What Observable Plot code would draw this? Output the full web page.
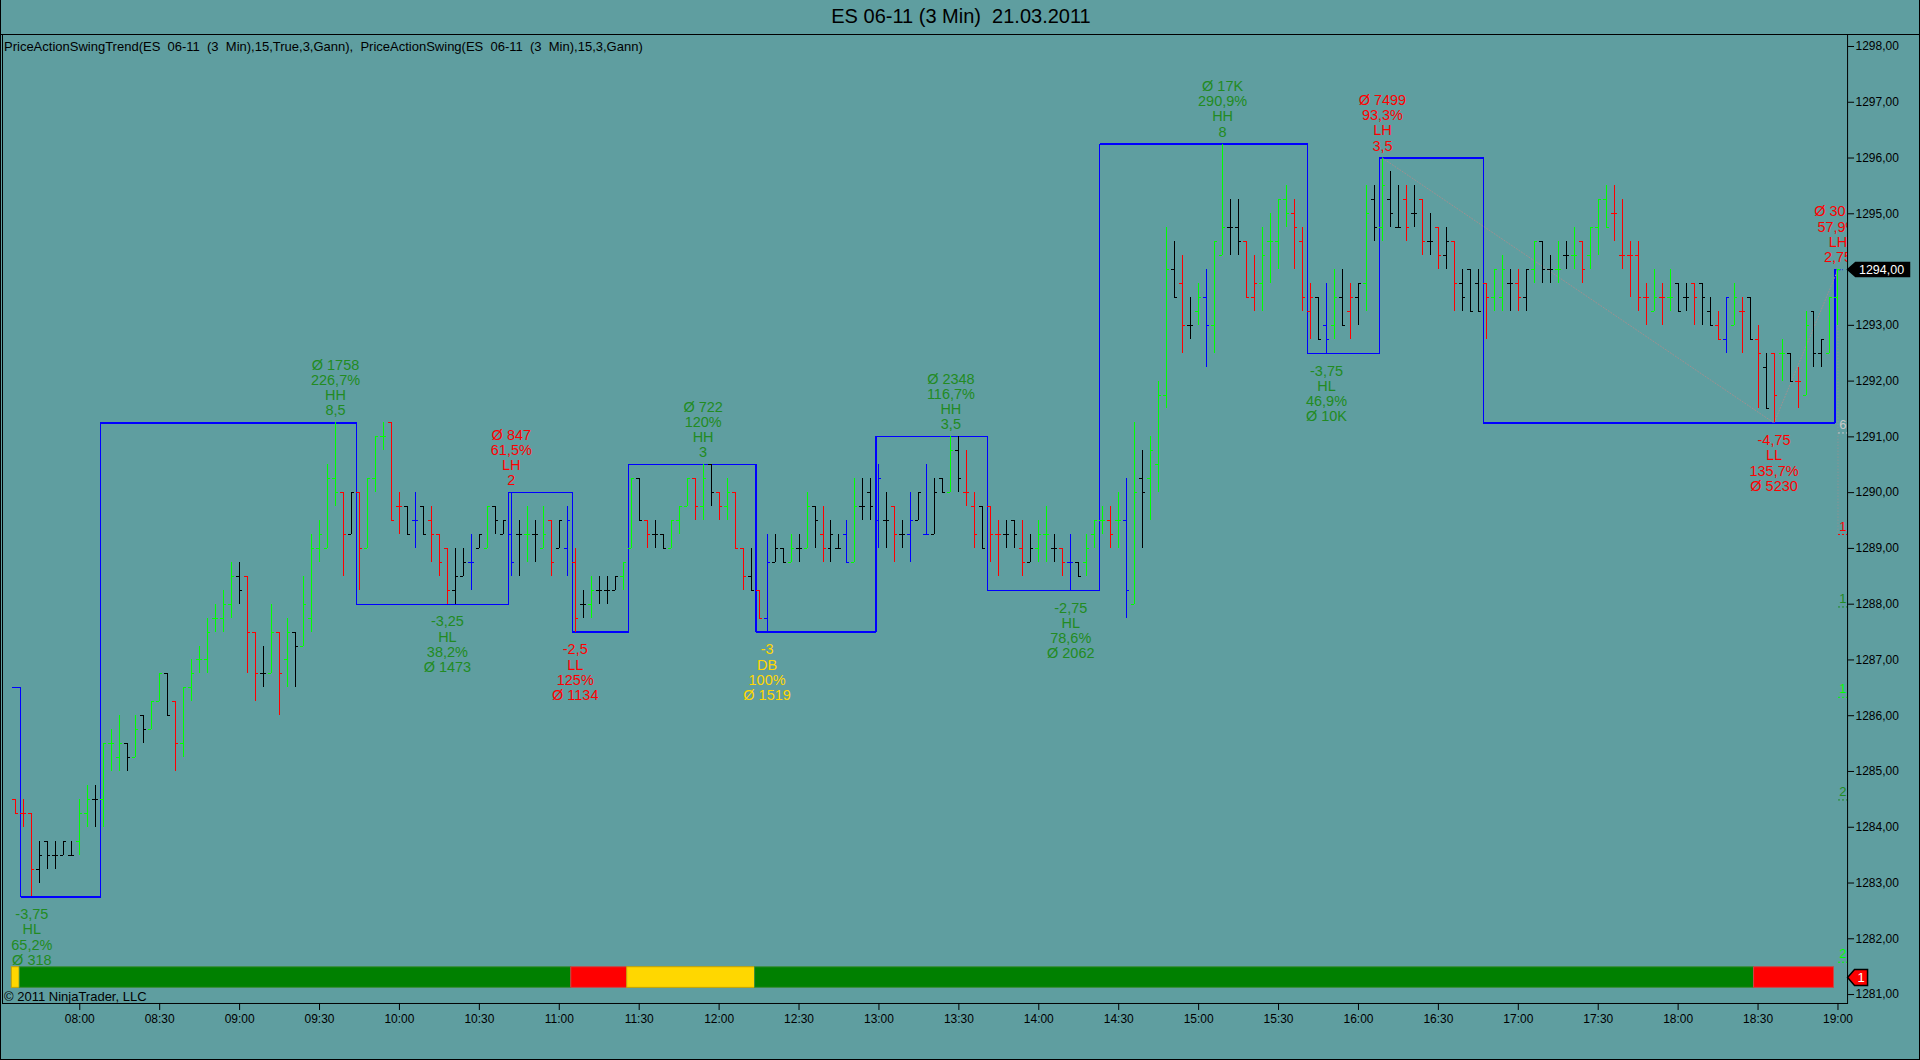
<!DOCTYPE html>
<html>
<head>
<meta charset="utf-8">
<script src="https://cdn.jsdelivr.net/npm/d3@7"></script>
<script src="https://cdn.jsdelivr.net/npm/@observablehq/plot@0.6"></script>
<style>
html,body{margin:0;padding:0;background:#5F9EA0;}
#page{position:relative;width:1920px;height:1060px;background:#5F9EA0;overflow:hidden;font-family:Arial,"Liberation Sans",sans-serif;color:#000;box-sizing:border-box;border-left:1px solid #000;border-right:1px solid #000;border-bottom:1px solid #000;}
#title{position:absolute;left:0;top:0;width:1920px;height:34px;line-height:32px;text-align:center;font-size:20px;white-space:pre;}
#topline{position:absolute;left:0;top:34px;width:1920px;height:1px;background:#000;}
#chart{position:absolute;left:-1px;top:34px;}
#header{position:absolute;left:3px;top:39px;font-size:13px;line-height:16px;white-space:pre;}
#copy{position:absolute;left:3px;top:989px;font-size:13px;line-height:16px;white-space:pre;}
</style>
</head>
<body>
<div id="page">
  <div id="title"></div>
  <div id="chart"></div>
  <div id="topline"></div>
  <div id="header"></div>
  <div id="copy"></div>
</div>
<script>
// ---------- texts ----------
const titleText = "ES 06-11 (3 Min)  21.03.2011";
const headerText = "PriceActionSwingTrend(ES  06-11  (3  Min),15,True,3,Gann),  PriceActionSwing(ES  06-11  (3  Min),15,3,Gann)";
const copyrightText = "© 2011 NinjaTrader, LLC";

// ---------- bars (3-minute OHLC, first bar 07:36) ----------
const firstBar = "07:36";
const barMinutes = 3;
const opens = [
1284.5,1284.25,1284.25,1283.25,1283.75,1283.5,1283.5,1283.5,1283.75,1284.25,
1284.5,1284.5,1285.5,1285.25,1285.5,1285.25,1286,1285.75,1286.25,1286.75,
1286.25,1285.5,1286.5,1287,1287,1287.75,1287.75,1288,1288.5,1288.5,
1287.5,1286.75,1286.75,1287.5,1287,1287.5,1287.25,1287.75,1289,1289,
1290.25,1290,1289.25,1290,1289,1290.25,1291,1291.25,1289.75,1289.75,
1289.5,1289.75,1289.5,1289.25,1289,1288.25,1288.5,1288.75,1289,1289,
1289.75,1289.25,1289.25,1289.25,1289.25,1289.25,1289,1289.5,1289,1289,
1288.75,1288,1288,1288.25,1288.25,1288.25,1288.5,1289,1290.25,1289.5,
1289.25,1289.25,1289,1289.5,1289.75,1290.25,1289.75,1290.5,1290,1289.75,
1290,1289,1288.5,1288.25,1287.75,1288.75,1289,1288.75,1289,1289,
1289.75,1289.25,1289,1289,1289.25,1288.75,1289.75,1290,1289.5,1289.5,
1289.75,1289.25,1289.25,1289.5,1289.25,1289.25,1290.25,1290,1290.75,1290,
1289.75,1289.75,1289.75,1289.25,1289.25,1289.5,1289,1288.75,1289,1289.25,
1289,1289,1288.75,1288.75,1288.75,1289.25,1289.5,1289.5,1289.5,1289.5,
1288,1290.25,1290.25,1290.5,1291.75,1294,1293.75,1293,1293.25,1293.5,
1293,1294.25,1294.75,1294.75,1294.5,1293.5,1293.75,1294.5,1294.5,1295.25,
1295,1294.5,1293.25,1293.5,1293,1293,1293.5,1293.25,1293.5,1293.75,
1295.25,1294.75,1295.25,1294.75,1295.25,1295,1295.25,1294.5,1294.75,1294.25,
1294.5,1293.75,1294,1293.75,1293.75,1293.5,1293.5,1293.75,1293.75,1293.5,
1294,1294.5,1294,1294,1294.25,1294.25,1294.5,1294.25,1294.75,1295.25,
1295,1294.25,1294.25,1294.25,1293.5,1293.25,1293.5,1293.5,1293.75,1293.5,
1293.75,1293.75,1293.25,1293,1292.75,1293,1293.25,1293.5,1292.75,1292.25,
1292.5,1292.5,1292.5,1292,1291.75,1293.25,1292.5,1292.5,1293.5];
const highs = [
1284.5,1284.5,1284.25,1283.75,1283.75,1283.75,1283.75,1283.75,1284.5,1284.75,
1284.75,1285.5,1285.75,1286,1285.5,1286,1286,1286.25,1286.75,1286.75,
1286.25,1286.5,1287,1287.25,1287.75,1288,1288.25,1288.75,1288.75,1288.5,
1287.5,1287.25,1288,1287.5,1287.75,1287.5,1288.5,1289.25,1289.5,1290.5,
1291.25,1290,1290,1290,1290.25,1291,1291.25,1291.25,1290,1289.75,
1290,1289.75,1289.75,1289.25,1289,1289,1289,1289.25,1289.25,1289.75,
1289.75,1289.5,1290,1289.5,1289.75,1289.5,1289.75,1289.5,1289.5,1289.75,
1289,1288.25,1288.5,1288.5,1288.5,1288.5,1288.75,1290.25,1290.25,1289.5,
1289.5,1289.25,1289.5,1289.75,1290.25,1290.25,1290.5,1290.5,1290,1290.25,
1290,1289,1289,1288.25,1289.25,1289.25,1289,1289.25,1289.25,1290,
1289.75,1289.75,1289.5,1289.25,1289.5,1290.25,1290.25,1290.25,1290.5,1290,
1289.75,1289.5,1290,1290,1290.5,1290.25,1290.25,1291,1291,1290.75,
1290,1289.75,1289.75,1289.5,1289.5,1289.5,1289.5,1289.25,1289.5,1289.75,
1289.25,1289,1289.25,1288.75,1289.25,1289.5,1289.75,1289.75,1290,1290.25,
1291.25,1290.75,1291,1292,1294.75,1294.5,1294.25,1293.5,1293.75,1294,
1294.5,1296.25,1295.25,1295.25,1294.5,1294.25,1294.75,1295,1295.25,1295.5,
1295.25,1294.75,1293.75,1293.5,1293.75,1294,1294,1293.75,1293.75,1295.5,
1295.5,1296,1295.75,1295.5,1295.5,1295.5,1295.25,1295,1294.75,1294.75,
1294.5,1294,1294,1294,1293.75,1294,1294.25,1294,1294,1294,
1294.5,1294.5,1294.25,1294.5,1294.5,1294.75,1294.5,1294.75,1295.25,1295.5,
1295.5,1295.25,1294.5,1294.5,1293.75,1294,1293.75,1294,1293.75,1293.75,
1293.75,1293.75,1293.5,1293.25,1293.5,1293.75,1293.5,1293.5,1293,1292.5,
1292.5,1292.75,1292.5,1292.25,1293.25,1293.25,1292.75,1293.5,1294];
const lows = [
1284.25,1284,1282.75,1283,1283.25,1283.25,1283.5,1283.5,1283.5,1284,
1284,1284,1285,1285,1285,1285.25,1285.5,1285.75,1286.25,1286,
1285,1285.25,1286.25,1286.75,1286.75,1287.5,1287.5,1287.75,1288,1286.75,
1286.25,1286.5,1286.75,1286,1286.5,1286.5,1287.25,1287.5,1288.75,1289,
1289.75,1288.5,1289.25,1288.25,1289,1290,1290.75,1289.5,1289.25,1289.25,
1289,1289.25,1288.75,1288.5,1288,1288,1288.5,1288.25,1289,1289,
1289.25,1289.25,1288.5,1288.5,1288.75,1288.75,1289,1288.5,1289,1288.5,
1287.5,1287.75,1287.75,1288,1288,1288.25,1288.25,1289,1289.5,1289,
1289,1289,1289,1289.25,1289.75,1289.5,1289.5,1289.75,1289.5,1289.5,
1289,1288.25,1288.25,1287.75,1287.5,1288.75,1288.75,1288.75,1288.75,1289,
1289,1288.75,1288.75,1289,1288.75,1288.75,1289.5,1289.5,1289,1289,
1288.75,1289,1288.75,1289.5,1289.25,1289.25,1290,1290,1290,1289.75,
1289,1289,1288.75,1288.5,1289,1289,1288.5,1288.75,1288.75,1288.75,
1288.75,1288.5,1288.25,1288.5,1288.5,1289,1289.25,1289,1289,1287.75,
1288,1289,1289.5,1290,1291.5,1293.5,1292.5,1292.75,1293,1292.25,
1292.5,1294.25,1294.25,1294.25,1293.5,1293.25,1293.25,1293.75,1294,1294.75,
1294,1293.25,1292.75,1292.75,1292.5,1292.75,1293,1292.75,1293,1293.25,
1294.5,1294.5,1294.75,1294.75,1294.5,1294.75,1294.25,1294.25,1294,1294,
1293.25,1293.25,1293.25,1293.25,1292.75,1293.25,1293.25,1293.25,1293.25,1293.25,
1293.75,1293.75,1293.75,1293.75,1294,1294,1293.75,1294,1294.25,1294.75,
1294.5,1294,1293.5,1293.25,1293,1293.25,1293,1293.25,1293.25,1293.25,
1293,1293,1293,1292.75,1292.5,1293,1292.5,1292.75,1291.5,1291.5,
1291.25,1292,1292,1291.5,1291.75,1292.25,1292.25,1292.5,1293];
const closes = [
1284.25,1284.25,1283.25,1283.5,1283.5,1283.5,1283.75,1283.5,1284.25,1284.5,
1284.5,1285.5,1285.5,1285.5,1285.25,1285.75,1285.75,1286.25,1286.75,1286,
1285.5,1286.5,1286.75,1287,1287.5,1287.75,1288,1288.5,1288.25,1287.5,
1286.75,1286.75,1287.5,1286.75,1287.5,1287.25,1288,1289,1289.25,1290.25,
1290,1289.25,1290,1289,1290.25,1291,1291,1289.5,1289.75,1289.25,
1289.5,1289.25,1289.25,1288.75,1288.25,1288.5,1288.75,1288.75,1289.25,1289.75,
1289.5,1289.5,1288.75,1289.25,1289.25,1289.25,1289.25,1288.75,1289.5,1289.5,
1287.75,1288,1288.25,1288.25,1288.25,1288.5,1288.75,1290.25,1289.5,1289.25,
1289.25,1289,1289.5,1289.75,1290.25,1289.75,1290.25,1290,1289.75,1290,
1289,1288.5,1288.25,1287.75,1288.75,1289,1288.75,1289,1289,1289.75,
1289.5,1289,1289.25,1289,1288.75,1289.75,1289.75,1289.75,1290.25,1289.5,
1289.25,1289.25,1289.5,1290,1289.25,1290,1290,1290.75,1290.25,1290,
1289.25,1289,1289.25,1289.25,1289.25,1289.25,1288.75,1289,1289.25,1289.25,
1289,1288.75,1288.75,1288.5,1289,1289.5,1289.5,1289.25,1289.5,1288.25,
1290,1290,1290.75,1291.75,1294,1293.5,1293,1293,1293.5,1293,
1294.5,1294.75,1294.75,1294.5,1293.5,1293.75,1294.25,1294.5,1295.25,1295,
1294.75,1293.5,1293.5,1292.75,1292.75,1293.5,1293,1293.5,1293.75,1295,
1294.75,1295.5,1295,1294.75,1294.75,1295,1294.5,1294.5,1294.25,1294.5,
1293.75,1293.5,1293.25,1293.25,1293.5,1294,1294,1293.75,1293.5,1294,
1294.5,1294,1294,1294,1294.25,1294.25,1294,1294.75,1295.25,1294.75,
1295,1294.25,1294.25,1293.5,1293.5,1293.5,1293.5,1293.5,1293.25,1293.5,
1293.5,1293.5,1293,1292.75,1293.5,1293.5,1293.25,1292.75,1292.5,1291.5,
1291.75,1292.5,1292,1292,1293,1292.5,1292.75,1293.5,1294];
// bar colour codes: g = up (lime), r = down (red), k = neutral (black), b = swing (blue)
const barColorCodes = ("rrrkkkkkgg kgggkgkggk rgggggggkr rkgrgkgggg grkrgggrrk bkrrrkkbkg kkbkgkgrkb rkgkkkggkr " +
  "kkgggrgkrg rrkrbkkgkg krkkbgkkbk rkbkbkkgkr rkrrkkrkgg krbkgggrgb gkgggkrkgb ggkkrrgggg rrrkbgkrkg " +
  "kgkkrkrkrk rkkkrggkrk gkkgkgrggg rrrrrgrgkk rkkrbgrkrk rgkrgkkgg").replace(/ /g, "").split("");
const barPalette = {g: "#00FF00", r: "#FF0000", k: "#000000", b: "#0000FF"};

// ---------- swing trend line (blue step line) ----------
const swingTimes  = ["07:36","07:39","08:09","09:45","10:42","11:06","11:27","12:15","13:00","13:42","14:24","15:42","16:09","16:48","19:00"];
const swingPrices = [1286.5,1282.75,1291.25,1288,1290,1287.5,1290.5,1287.5,1291,1288.25,1296.25,1292.5,1296,1291.25,1294];

// ---------- current zigzag (grey dotted) ----------
const zigzagTimes  = ["16:09","18:36","19:00"];
const zigzagPrices = [1296,1291.25,1294];

// ---------- swing labels ----------
const labelTimes  = ["07:42","09:36","10:18","10:42","11:06","11:54","12:18","13:27","14:12","15:09","15:48","16:09","18:36","19:00"];
const labelPrices = [1282.75,1291.25,1288,1290,1287.5,1290.5,1287.5,1291,1288.25,1296.25,1292.5,1296,1291.25,1294];
const labelSides  = ["below","above","below","above","below","above","below","above","below","above","below","above","below","above"];
const labelColors = ["#228B22","#228B22","#228B22","#FF0000","#FF0000","#228B22","#FFD700","#228B22","#228B22","#228B22","#228B22","#FF0000","#FF0000","#FF0000"];
const labelLines = [
  ["-3,75","HL","65,2%","Ø 318"],
  ["Ø 1758","226,7%","HH","8,5"],
  ["-3,25","HL","38,2%","Ø 1473"],
  ["Ø 847","61,5%","LH","2"],
  ["-2,5","LL","125%","Ø 1134"],
  ["Ø 722","120%","HH","3"],
  ["-3","DB","100%","Ø 1519"],
  ["Ø 2348","116,7%","HH","3,5"],
  ["-2,75","HL","78,6%","Ø 2062"],
  ["Ø 17K","290,9%","HH","8"],
  ["-3,75","HL","46,9%","Ø 10K"],
  ["Ø 7499","93,3%","LH","3,5"],
  ["-4,75","LL","135,7%","Ø 5230"],
  ["Ø 30\u2007\u2007","57,9%","LH","2,75"]
];

// ---------- trend strip ----------
const trendStarts = ["07:36","07:39","11:06","11:27","12:15","18:30"];
const trendEnds   = ["07:36","11:03","11:24","12:12","18:27","18:57"];
const trendColors = ["#FFD700","#008000","#FF0000","#FFD700","#008000","#FF0000"];
const trendBorders = ["#C8A400","#3C8C3C","#C84848","#C8A400","#3C8C3C","#C84848"];
const trendBand = [1281.12, 1281.49];
const trendMarkerText = "1";

// ---------- right-edge counters ----------
const counterPrices = [1291.07,1289.25,1287.95,1286.33,1284.49,1281.58];
const counterTexts  = ["6","1","1","1","2","2"];
const counterColors = ["#C8C8C8","#FF0000","#228B22","#00FF00","#228B22","#00FF00"];

// ---------- axes ----------
const xTickLabels = ["08:00","08:30","09:00","09:30","10:00","10:30","11:00","11:30","12:00","12:30","13:00","13:30","14:00","14:30","15:00","15:30","16:00","16:30","17:00","17:30","18:00","18:30","19:00"];
const yTicks = [1281,1282,1283,1284,1285,1286,1287,1288,1289,1290,1291,1292,1293,1294,1295,1296,1297,1298];

// ---------- helpers ----------
const toMin = s => { const [h, m] = s.split(":").map(Number); return h * 60 + m; };
const fmtTime = m => String(Math.floor(m / 60)).padStart(2, "0") + ":" + String(Math.round(m % 60)).padStart(2, "0");
const fmtPrice = v => v.toFixed(2).replace(".", ",");
const tickLen = 1.125;        // open/close tick length, minutes
const lineShift = 1.125;      // swing line drawn just left of its bar
const xDomain = [451, 1143.6];
const yDomain = [1280.84, 1298.215];

const t0 = toMin(firstBar);
const bars = opens.map((o, i) => ({
  t: t0 + i * barMinutes, o, h: highs[i], l: lows[i], c: closes[i], col: barPalette[barColorCodes[i]]
}));
const swings = swingTimes.map((s, i) => ({t: toMin(s) - lineShift, p: swingPrices[i]}));
const zigzag = zigzagTimes.map((s, i) => ({t: toMin(s), p: zigzagPrices[i]}));
const labels = labelTimes.map((s, i) => ({t: toMin(s), p: labelPrices[i], side: labelSides[i], col: labelColors[i], text: labelLines[i].join("\n")}));
const trend = trendStarts.map((s, i) => ({x1: toMin(s) - barMinutes / 2, x2: toMin(trendEnds[i]) + barMinutes / 2, fill: trendColors[i], stroke: trendBorders[i]}));
const counters = counterPrices.map((p, i) => ({p, text: counterTexts[i], col: counterColors[i]}));
const lastBar = bars[bars.length - 1];
const lastSwing = swings[swings.length - 1];

const priceTagSymbol = {draw(ctx) { ctx.moveTo(0, 0); ctx.lineTo(8, -7); ctx.lineTo(62, -7); ctx.lineTo(62, 7); ctx.lineTo(8, 7); ctx.closePath(); }};
const trendTagSymbol = {draw(ctx) { ctx.moveTo(0, 0); ctx.lineTo(7, -8); ctx.lineTo(20, -8); ctx.lineTo(20, 8); ctx.lineTo(7, 8); ctx.closePath(); }};

document.getElementById("title").textContent = titleText;
document.getElementById("header").textContent = headerText;
document.getElementById("copy").textContent = copyrightText;

const font = "Arial, 'Liberation Sans', sans-serif";
const chart = Plot.plot({
  width: 1921, height: 1026,
  marginTop: 0, marginBottom: 56, marginLeft: 2, marginRight: 72,
  x: {domain: xDomain},
  y: {domain: yDomain},
  color: {type: "identity"},
  style: {background: "transparent", fontFamily: font, fontSize: "12px", color: "#000", overflow: "visible"},
  marks: [
    Plot.frame({stroke: "#000"}),
    // trend strip
    Plot.rect(trend, {x1: "x1", x2: "x2", y1: trendBand[0], y2: trendBand[1], fill: "fill", stroke: "stroke", strokeWidth: 1}),
    // swing boxes
    Plot.line(swings, {x: "t", y: "p", curve: "step-after", stroke: "#0000FF", strokeWidth: 1.2, shapeRendering: "crispEdges"}),
    Plot.ruleY([lastSwing], {y: "p", x1: d => d.t, x2: d => d.t + 3.2, stroke: "#0000FF", strokeWidth: 1.2, strokeDasharray: "2,2"}),
    // zigzag
    Plot.line(zigzag, {x: "t", y: "p", stroke: "#A09090", strokeWidth: 1, strokeDasharray: "1,2"}),
    Plot.ruleX([lastBar], {x: "t", y1: "l", y2: counterPrices[1], stroke: "#A09090", strokeWidth: 1, strokeDasharray: "1,2"}),
    // OHLC bars
    Plot.ruleX(bars, {x: "t", y1: "l", y2: "h", stroke: "col", strokeWidth: 1, shapeRendering: "crispEdges"}),
    Plot.ruleY(bars, {y: "o", x1: d => d.t - tickLen, x2: "t", stroke: "col", strokeWidth: 1, shapeRendering: "crispEdges"}),
    Plot.ruleY(bars, {y: "c", x1: "t", x2: d => d.t + tickLen, stroke: "col", strokeWidth: 1, shapeRendering: "crispEdges"}),
    // swing labels
    Plot.text(labels.filter(d => d.side === "above"), {x: "t", y: "p", text: "text", fill: "col", fontSize: 14.5, lineHeight: 1.05, lineAnchor: "bottom", dy: -7.5, clip: true}),
    Plot.text(labels.filter(d => d.side === "below"), {x: "t", y: "p", text: "text", fill: "col", fontSize: 14.5, lineHeight: 1.05, lineAnchor: "top", dy: 11.5, clip: true}),
    // right-edge counters
    Plot.ruleY(counters, {y: "p", x1: xDomain[1] - 3.4, x2: xDomain[1], stroke: "col", strokeWidth: 1, strokeDasharray: "2,2"}),
    Plot.text(counters, {x: xDomain[1], y: "p", text: "text", fill: "col", fontSize: 13, textAnchor: "end", dx: -1, dy: -8}),
    // axes (the last-price tag stands in for its own tick label)
    Plot.axisX({ticks: xTickLabels.map(toMin), tickFormat: fmtTime, tickSize: 7, tickPadding: 4, fontSize: 12}),
    Plot.axisY({anchor: "right", ticks: yTicks.filter(v => v !== lastBar.c), tickFormat: fmtPrice, tickSize: 6, tickPadding: 2, fontSize: 12}),
    // last price tag
    Plot.dot([lastBar], {x: xDomain[1], y: "c", symbol: priceTagSymbol, fill: "#000", stroke: "#000", r: 5}),
    Plot.text([lastBar], {x: xDomain[1], y: "c", text: d => fmtPrice(d.c), fill: "#fff", fontSize: 12.5, dx: 34}),
    // trend counter tag
    Plot.dot([trendMarkerText], {x: xDomain[1], y: (trendBand[0] + trendBand[1]) / 2, symbol: trendTagSymbol, fill: "#FF0000", stroke: "#000", r: 5}),
    Plot.text([trendMarkerText], {x: xDomain[1], y: (trendBand[0] + trendBand[1]) / 2, text: d => d, fill: "#fff", fontSize: 13, dx: 13.5})
  ]
});
document.getElementById("chart").appendChild(chart);
</script>
</body>
</html>
